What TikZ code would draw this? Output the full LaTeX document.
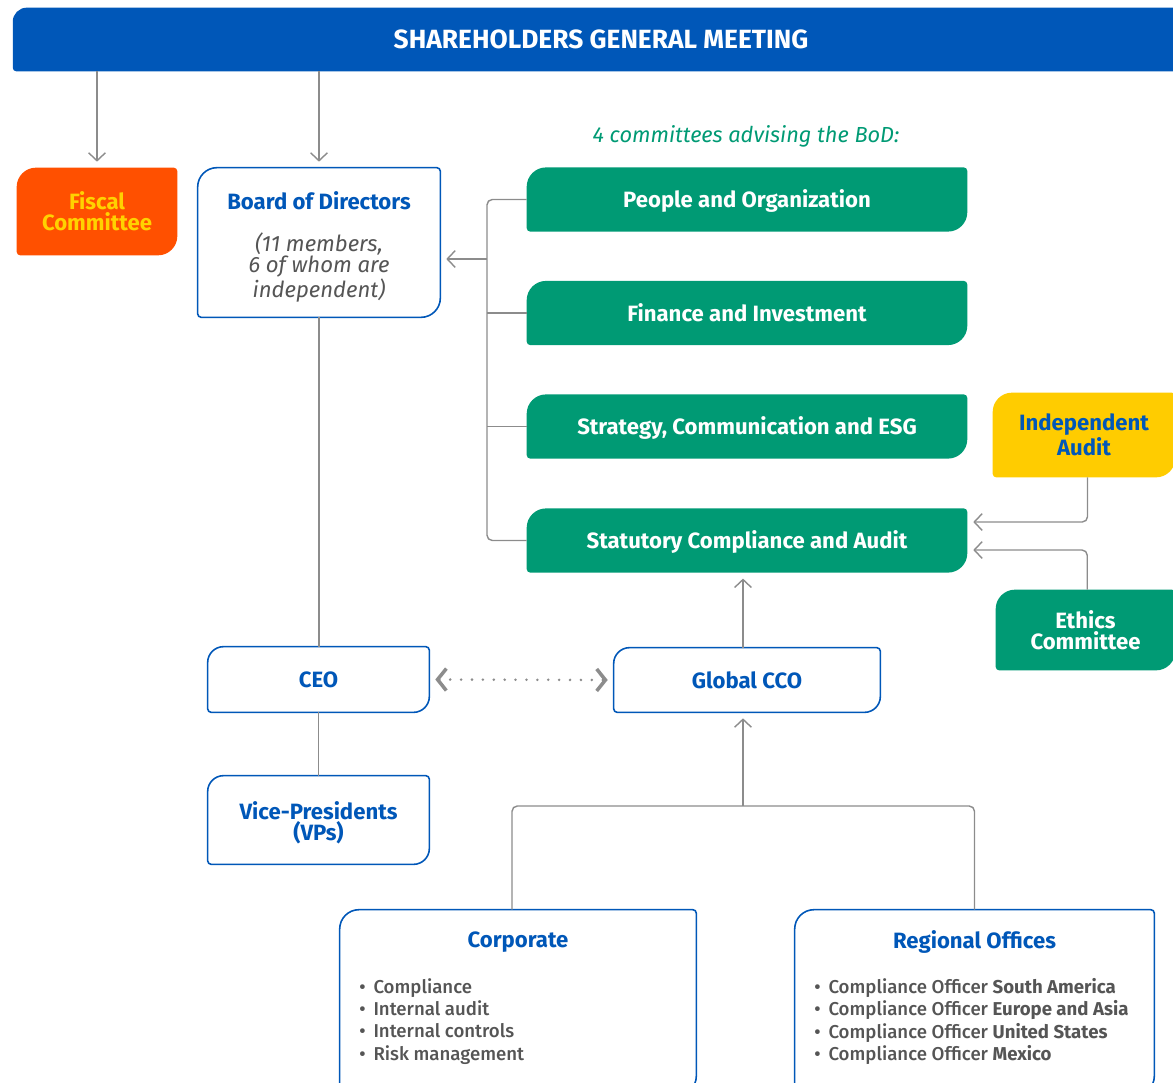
\documentclass[tikz,border=0pt]{standalone}
\usepackage{fontspec}
\setmainfont{Fira Sans}
\newfontfamily\medfont{Fira Sans Medium}[BoldFont={Fira Sans Bold}]
\usetikzlibrary{arrows.meta,calc,backgrounds}
\definecolor{shblue}{HTML}{0057B8}
\definecolor{shgreen}{HTML}{009A74}
\definecolor{shorange}{HTML}{FF5000}
\definecolor{shyellow}{HTML}{FFCC00}
\definecolor{txyellow}{HTML}{FFD200}
\definecolor{lngray}{HTML}{8C8C8C}
\definecolor{txgray}{HTML}{555555}
\newcommand{\leafbox}[3][11pt]{%
  \path[#3] ([yshift=-#1]#2.north west) arc[start angle=180,end angle=90,radius=#1]
    -- ([xshift=-2pt]#2.north east) arc[start angle=90,end angle=0,radius=2pt]
    -- ([yshift=#1]#2.south east) arc[start angle=0,end angle=-90,radius=#1]
    -- ([xshift=2pt]#2.south west) arc[start angle=270,end angle=180,radius=2pt]
    -- cycle;}
\newcommand{\subtxt}[1]{\textcolor{txgray}{\mdseries\itshape #1}}
\newcommand{\itm}{\textbullet\hspace{4.5pt}}

\begin{document}
\begin{tikzpicture}[x=0.02cm,y=-0.02cm,
  box/.style={inner sep=0pt,align=center,font=\fontsize{12.6}{12}\selectfont\bfseries},
  wbox/.style={box,text=shblue},
  grbox/.style={box,text=white,minimum width=8.8cm,minimum height=1.27cm,text height=9.5pt,text depth=0pt},
  lst/.style={inner sep=0pt,align=left,text=txgray,font=\fontsize{10.6}{12.7}\selectfont\medfont},
  ln/.style={draw=lngray,line width=0.8pt},
  ar/.style={ln,-{Straight Barb[length=4.5pt,width=9.5pt]},shorten >=3.4pt},
  dots/.style={draw=lngray,line width=1.6pt,line cap=round,dash pattern=on 0pt off 6.2pt,
    {Straight Barb[length=5pt,width=12.5pt,line width=2pt]}-{Straight Barb[length=5pt,width=12.5pt,line width=2pt]},
    shorten <=3.4pt,shorten >=3.4pt}]
\useasboundingbox (0,0) rectangle (1173,1082);
\node[box,text=white,font=\fontsize{15}{16}\selectfont\bfseries,minimum width=23.52cm,minimum height=1.26cm] (gm) at (601,39.5) {SHAREHOLDERS GENERAL MEETING};
\node[box,text=txyellow,minimum width=3.2cm,minimum height=1.74cm] (fiscal) at (97,211.5) {Fiscal\\Committee};
\node[wbox,minimum width=4.84cm,minimum height=2.98cm] (bod) at (319,242.5) {\rule{0pt}{15.5pt}Board of Directors\\[12pt]\subtxt{(11 members,}\\\subtxt{6 of whom are}\\\subtxt{independent)}};
\node[box,text=shgreen,font=\fontsize{12.4}{15}\selectfont\mdseries\itshape] (note) at (746,136) {4 committees advising the BoD:};
\node[grbox] (people) at (747,199.5) {People and Organization};
\node[grbox] (finance) at (747,313) {Finance and Investment};
\node[grbox] (strategy) at (747,426.5) {Strategy, Communication and ESG};
\node[grbox] (audit) at (747,540.5) {Statutory Compliance and Audit};
\node[wbox,minimum width=3.64cm,minimum height=1.68cm] (indep) at (1084,435) {Independent\\Audit};
\node[box,text=white,minimum width=3.58cm,minimum height=1.6cm] (ethics) at (1085.5,630) {Ethics\\Committee};
\node[wbox,minimum width=4.42cm,minimum height=1.3cm] (ceo) at (318.5,679.5) {CEO};
\node[wbox,minimum width=5.32cm,minimum height=1.28cm] (cco) at (747,680) {Global CCO};
\node[wbox,minimum width=4.42cm,minimum height=1.76cm] (vps) at (318.5,820) {\rule{0pt}{13pt}Vice-Presidents\\(VPs)};
\node[inner sep=0pt,minimum width=7.12cm,minimum height=3.7cm] (corp) at (518,1002.5) {};
\node[inner sep=0pt,minimum width=7.18cm,minimum height=3.7cm] (reg) at (974.5,1002.5) {};
\node[wbox] (corptitle) at (518,942) {Corporate};
\node[wbox] (regtitle) at (974.5,942) {Regional Offices};
\node[lst,anchor=north west] (corplist) at (359,978) {\itm Compliance\\\itm Internal audit\\\itm Internal controls\\\itm Risk management};
\node[lst,anchor=north west] (reglist) at (814,978) {\itm Compliance Officer \textbf{South America}\\\itm Compliance Officer \textbf{Europe and Asia}\\\itm Compliance Officer \textbf{United States}\\\itm Compliance Officer \textbf{Mexico}};
\begin{scope}[on background layer]
\leafbox[8pt]{gm}{fill=shblue}
\leafbox{fiscal}{fill=shorange}
\leafbox{bod}{fill=white,draw=shblue,line width=0.9pt}
\leafbox{people}{fill=shgreen}
\leafbox{finance}{fill=shgreen}
\leafbox{strategy}{fill=shgreen}
\leafbox{audit}{fill=shgreen}
\leafbox{indep}{fill=shyellow}
\leafbox{ethics}{fill=shgreen}
\leafbox[9pt]{ceo}{fill=white,draw=shblue,line width=0.9pt}
\leafbox[9pt]{cco}{fill=white,draw=shblue,line width=0.9pt}
\leafbox[9pt]{vps}{fill=white,draw=shblue,line width=0.9pt}
\leafbox{corp}{fill=white,draw=shblue,line width=0.9pt}
\leafbox{reg}{fill=white,draw=shblue,line width=0.9pt}
\end{scope}
\coordinate (bus) at (487,259);
\coordinate (fork) at (743,806);
\draw[ar] (gm.south -| fiscal) -- (fiscal.north);
\draw[ar] (gm.south -| bod) -- (bod.north);
\draw[ln,rounded corners=3pt] (people.west) -| (bus |- audit.west) -- (audit.west);
\draw[ln] (bus |- finance.west) -- (finance.west);
\draw[ln] (bus |- strategy.west) -- (strategy.west);
\draw[ar] (bus) -- (bus -| bod.east);
\draw[ar,rounded corners=3pt] ([xshift=2pt]indep.south) |- ($(audit.east)+(0,-18.5)$);
\draw[ar,rounded corners=3pt] ([xshift=1pt]ethics.north) |- ($(audit.east)+(0,9.5)$);
\draw[ln] (bod.south) -- (bod.south |- ceo.north);
\draw[ln] (ceo) -- (vps);
\draw[dots] (ceo.east) -- (cco.west);
\draw[ar] (cco.north -| fork) -- (fork |- audit.south);
\draw[ar] (fork) -- (fork |- cco.south);
\draw[ln,rounded corners=3pt] ([xshift=-3.4pt]corp.north) |- (fork) -| (reg.north);
\end{tikzpicture}
\end{document}
